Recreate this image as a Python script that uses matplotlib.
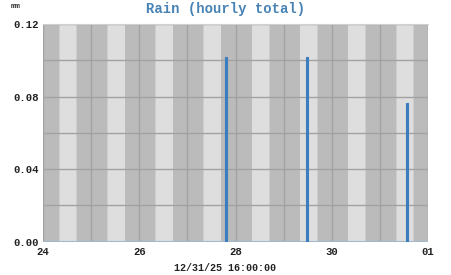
import numpy as np
import matplotlib
matplotlib.use("Agg")
import matplotlib.pyplot as plt
import matplotlib.dates as mdates
from datetime import datetime, timedelta

# hourly rain totals (timestamp = end of the hour), mm
rain_times = ["2025-12-27 20:00", "2025-12-29 12:00", "2025-12-31 14:00"]
rain_mm = [0.1016, 0.1016, 0.0762]

days = ["2025-12-24", "2025-12-25", "2025-12-26", "2025-12-27",
        "2025-12-28", "2025-12-29", "2025-12-30", "2025-12-31"]
sunrise_h = [8.3, 8.3, 8.3, 8.3, 8.3, 8.3, 8.3, 8.3]
sunset_h = [16.7, 16.7, 16.7, 16.7, 16.7, 16.7, 16.7, 16.7]

start = datetime(2025, 12, 24)
end = datetime(2026, 1, 1)

fig = plt.figure(figsize=(4.51, 2.75), dpi=100)
ax = fig.add_axes([43/451, 1-241.7/275, 385/451, 217.7/275])
ax.set_facecolor("#bbbbbb")

# day/night shading
for d, sr, ss in zip(days, sunrise_h, sunset_h):
    d0 = datetime.strptime(d, "%Y-%m-%d")
    ax.axvspan(d0 + timedelta(hours=sr - 0.3), d0 + timedelta(hours=ss + 0.3),
               color="#cdcdcd", lw=0, zorder=0)
    ax.axvspan(d0 + timedelta(hours=sr), d0 + timedelta(hours=ss),
               color="#dedede", lw=0, zorder=0)

t = [datetime.strptime(s, "%Y-%m-%d %H:%M") for s in rain_times]
left = [ti - timedelta(hours=1) for ti in t]
ax.bar(left, rain_mm, width=1/24, align="edge", color="#3b7dbf",
       edgecolor="#3b7dbf", lw=0.8, zorder=3)
ax.axhline(0, color="#a4b8cc", lw=1.5, zorder=2)

ax.set_xlim(start, end)
ax.set_ylim(0, 0.12)
ax.set_yticks([0.0, 0.04, 0.08, 0.12])
ax.set_yticks(np.arange(0, 0.121, 0.02), minor=True)
ax.yaxis.set_major_formatter(matplotlib.ticker.FormatStrFormatter("%.2f"))
ax.xaxis.set_major_locator(mdates.DayLocator(interval=2))
ax.xaxis.set_minor_locator(mdates.DayLocator())
ax.xaxis.set_major_formatter(mdates.DateFormatter("%d"))
ax.grid(True, which="both", color="#a2a2a2", lw=1, zorder=1)
ax.set_axisbelow(True)
ax.tick_params(which="both", length=0)
ax.tick_params(axis="x", pad=4)
ax.tick_params(axis="y", pad=3)
for lab in ax.get_xticklabels() + ax.get_yticklabels():
    lab.set_family("Liberation Mono")
    lab.set_fontweight("bold")
    lab.set_fontsize(7.7)
    lab.set_color("#222222")
for s in ["left", "right", "bottom"]:
    ax.spines[s].set_visible(False)
ax.spines["top"].set_color("#d0d0d0")

fig.text(0.5, 1-8.5/275, "Rain (hourly total)", ha="center", va="center",
         family="Liberation Mono", fontweight="bold", fontsize=10, color="#4682b4")
fig.text(16/451, 1-6/275, "mm", ha="center", va="center",
         family="Liberation Mono", fontweight="bold", fontsize=6, color="#333333")
fig.text(0.5, 1-268/275, "12/31/25 16:00:00", ha="center", va="center",
         family="Liberation Mono", fontweight="bold", fontsize=7.2, color="#222222")

fig.savefig("out.png", dpi=100)
